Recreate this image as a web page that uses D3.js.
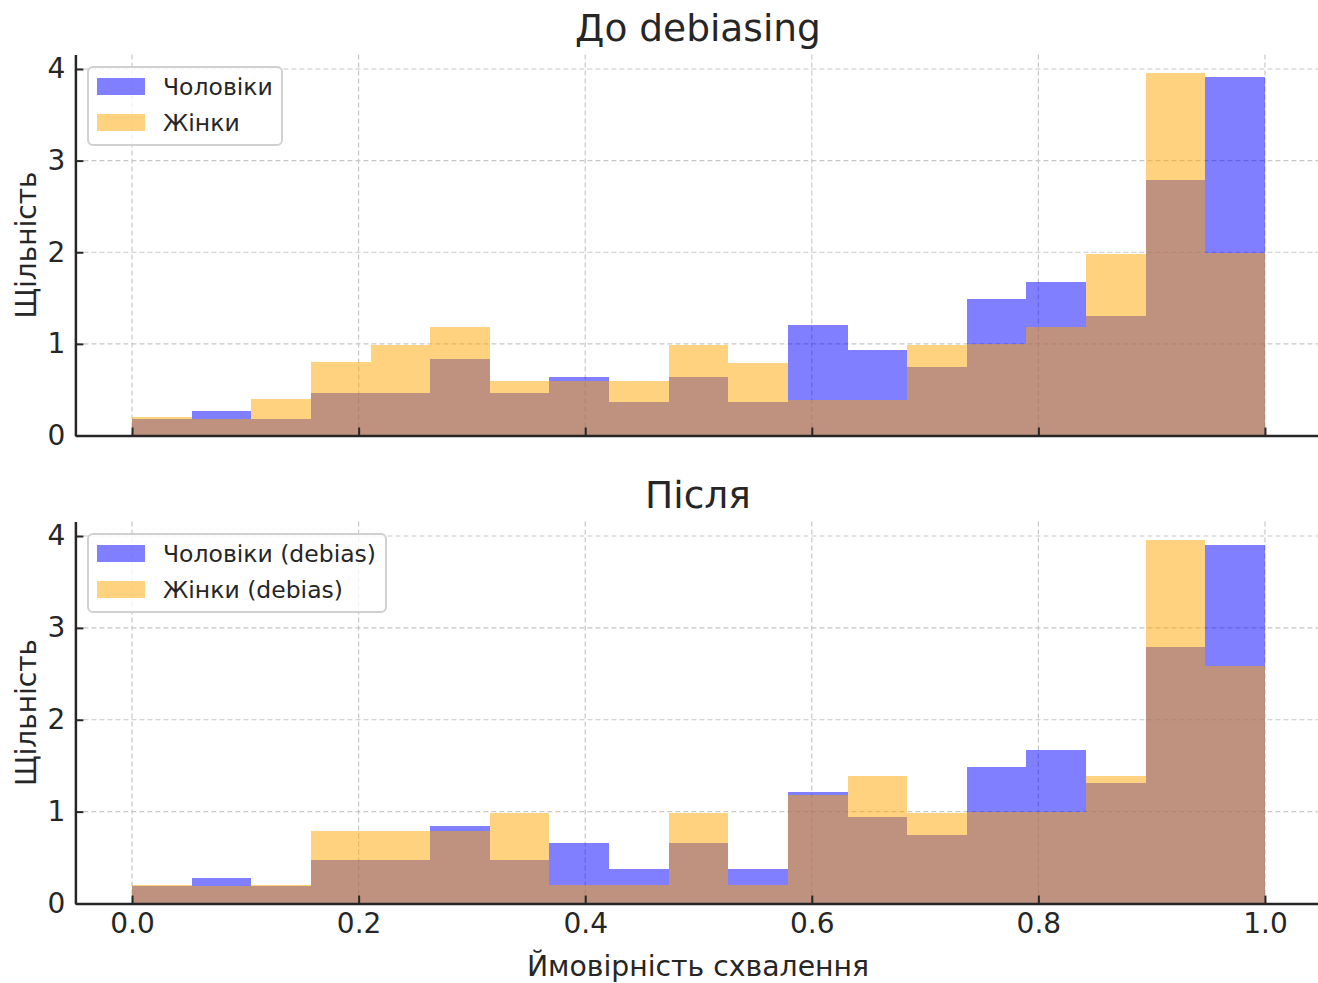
<!DOCTYPE html>
<html>
<head>
<meta charset="utf-8">
<script src="https://cdn.jsdelivr.net/npm/d3@7"></script>
<style>
  body { margin: 0; background: #fff; }
  text { font-family: "DejaVu Sans", sans-serif; fill: #262626; }
</style>
</head>
<body>
<div id="chart"></div>
<script>
// histogram densities, 19 equal bins on [0, 1]
const bin_edges = d3.range(20).map(i => i / 19);
const men_before = [0.18, 0.27, 0.18, 0.46, 0.46, 0.84, 0.46, 0.64, 0.37, 0.64, 0.37, 1.21, 0.93, 0.75, 1.49, 1.675, 1.30, 2.79, 3.91];
const women_before = [0.204, 0.18, 0.40, 0.80, 0.99, 1.18, 0.59, 0.59, 0.59, 0.99, 0.79, 0.39, 0.39, 0.99, 0.995, 1.185, 1.98, 3.96, 1.99];
const men_after = [0.19, 0.28, 0.19, 0.475, 0.475, 0.845, 0.475, 0.66, 0.38, 0.66, 0.38, 1.217, 0.94, 0.75, 1.49, 1.674, 1.31, 2.79, 3.90];
const women_after = [0.203, 0.19, 0.20, 0.79, 0.79, 0.79, 0.99, 0.20, 0.20, 0.99, 0.20, 1.185, 1.388, 0.99, 1.0, 1.0, 1.39, 3.96, 2.58];
const x_ticks = [0, 0.2, 0.4, 0.6, 0.8, 1.0];
const y_ticks = [0, 1, 2, 3, 4];

const W = 1318, H = 983;
const svg = d3.select("#chart").append("svg").attr("width", W).attr("height", H);

const x = d3.scaleLinear([-0.05, 1.05], [75.4, 1321.6]);

const panels = [
  {title: "До debiasing", top: 54.5, bottom: 435.5, men: men_before, women: women_before,
   labels: ["Чоловіки", "Жінки"], legend_w: 194, show_x: false},
  {title: "Після", top: 521.5, bottom: 903.5, men: men_after, women: women_after,
   labels: ["Чоловіки (debias)", "Жінки (debias)"], legend_w: 298, show_x: true},
];

panels.forEach(p => {
  const ymax = d3.max(p.men.concat(p.women)) * 1.05;
  const y = d3.scaleLinear([0, ymax], [p.bottom, p.top]);
  const g = svg.append("g");

  // grid
  g.append("g").selectAll("line").data(x_ticks).join("line")
    .attr("x1", d => x(d)).attr("x2", d => x(d))
    .attr("y1", p.top).attr("y2", p.bottom)
    .attr("stroke", "#c8c8c8").attr("stroke-width", 1.2).attr("stroke-dasharray", "5,3");
  g.append("g").selectAll("line").data(y_ticks).join("line")
    .attr("x1", x.range()[0]).attr("x2", W)
    .attr("y1", d => y(d)).attr("y2", d => y(d))
    .attr("stroke", "#c8c8c8").attr("stroke-width", 1.2).attr("stroke-dasharray", "5,3");

  // bars: men first, women on top
  [[p.men, "#0000ff"], [p.women, "#ffa500"]].forEach(([vals, col]) => {
    g.append("g").attr("shape-rendering", "crispEdges").selectAll("rect").data(vals).join("rect")
      .attr("x", (d, i) => x(bin_edges[i]))
      .attr("width", (d, i) => x(bin_edges[i + 1]) - x(bin_edges[i]))
      .attr("y", d => y(d))
      .attr("height", d => y(0) - y(d))
      .attr("fill", col).attr("fill-opacity", 0.5);
  });

  // axes
  const xAxis = d3.axisBottom(x).tickValues(x_ticks).tickSizeInner(-8).tickSizeOuter(0).tickPadding(10)
    .tickFormat(p.show_x ? d3.format(".1f") : () => "");
  const xg = g.append("g").attr("transform", `translate(0,${p.bottom})`).call(xAxis);
  xg.select(".domain").attr("stroke", "#262626").attr("stroke-width", 2.5);
  xg.selectAll(".tick line").attr("stroke", "#262626").attr("stroke-width", 2);
  xg.selectAll("text").attr("font-size", 28).attr("fill", "#262626").style("font-family", "DejaVu Sans");

  const yAxis = d3.axisLeft(y).tickValues(y_ticks).tickSizeInner(-8).tickSizeOuter(0).tickPadding(10).tickFormat(d3.format("d"));
  const yg = g.append("g").attr("transform", `translate(${x.range()[0]},0)`).call(yAxis);
  yg.select(".domain").attr("stroke", "#262626").attr("stroke-width", 2.5);
  yg.selectAll(".tick line").attr("stroke", "#262626").attr("stroke-width", 2);
  yg.selectAll("text").attr("font-size", 28).attr("fill", "#262626").style("font-family", "DejaVu Sans");

  // title + y label
  g.append("text").text(p.title)
    .attr("x", 698).attr("y", p.top - 14)
    .attr("text-anchor", "middle").attr("font-size", 37.5);
  g.append("text").text("Щільність")
    .attr("transform", `translate(36,${(p.top + p.bottom) / 2}) rotate(-90)`)
    .attr("text-anchor", "middle").attr("font-size", 28);

  // legend
  const lg = g.append("g").attr("transform", `translate(88,${p.top + 12.5})`);
  lg.append("rect").attr("width", p.legend_w).attr("height", 78).attr("rx", 5)
    .attr("fill", "#fff").attr("fill-opacity", 0.8).attr("stroke", "#d0d0d0").attr("stroke-width", 2);
  [["#0000ff", p.labels[0]], ["#ffa500", p.labels[1]]].forEach(([col, lab], i) => {
    lg.append("rect").attr("x", 9).attr("y", 11 + i * 36).attr("width", 48).attr("height", 17)
      .attr("fill", col).attr("fill-opacity", 0.5);
    lg.append("text").text(lab).attr("x", 75).attr("y", 28 + i * 36).attr("font-size", 23.5);
  });
});

svg.append("text").text("Ймовірність схвалення")
  .attr("x", 698).attr("y", 976).attr("text-anchor", "middle").attr("font-size", 28.3);
</script>
</body>
</html>
